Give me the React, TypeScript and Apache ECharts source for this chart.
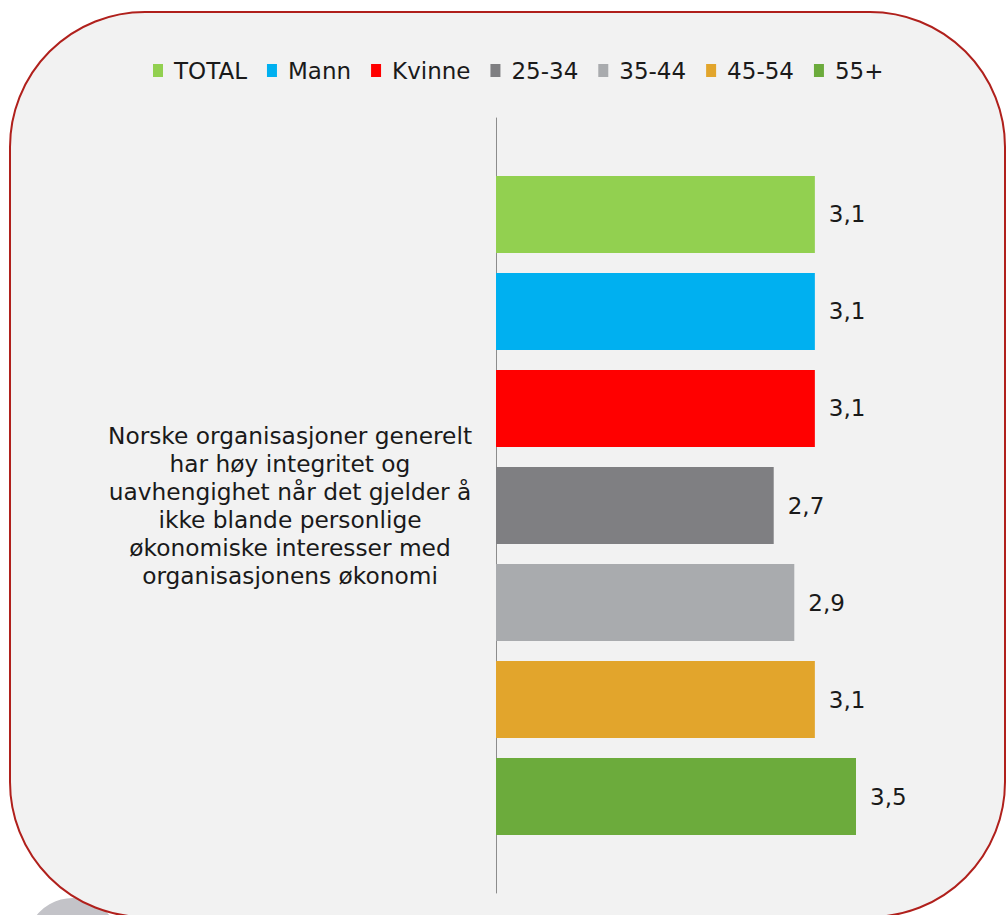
import React, { useEffect, useRef } from "react";
import * as echarts from "echarts";

const categories = [
  "Norske organisasjoner generelt\nhar høy integritet og\nuavhengighet når det gjelder å\nikke blande personlige\nøkonomiske interesser med\norganisasjonens økonomi",
];
const seriesNames = ["TOTAL", "Mann", "Kvinne", "25-34", "35-44", "45-54", "55+"];
const seriesValues = [3.1, 3.1, 3.1, 2.7, 2.9, 3.1, 3.5];
const seriesColors = ["#92d050", "#00b0f0", "#ff0000", "#7f7f82", "#a9abae", "#e2a52c", "#6cab3c"];

const FONT = "DejaVu Sans";

export default function App() {
  const ref = useRef<HTMLDivElement>(null);
  useEffect(() => {
    document.body.style.margin = "0";
    if (!ref.current) return;
    const chart = echarts.init(ref.current, undefined, { renderer: "svg" });
    chart.setOption({
      animation: false,
      backgroundColor: "#ffffff",
      graphic: [
        {
          type: "circle",
          z: -10,
          shape: { cx: 73, cy: 945, r: 47 },
          style: { fill: "#c3c3c8" },
        },
        {
          type: "rect",
          z: -5,
          shape: { x: 10, y: 12, width: 995, height: 905, r: 135 },
          style: { fill: "#f2f2f2", stroke: "#b0201c", lineWidth: 2 },
        },
      ],
      legend: {
        data: seriesNames,
        left: 148,
        top: 54,
        itemWidth: 10,
        itemHeight: 13,
        itemGap: 20,
        icon: "rect",
        textStyle: { fontFamily: FONT, fontSize: 23, color: "#1a1a1a", padding: [0, 0, 0, 6] },
      },
      grid: { left: 496, top: 118, width: 504, height: 775, containLabel: false },
      xAxis: { type: "value", min: 0, max: 4.9, show: false },
      yAxis: {
        type: "category",
        data: categories,
        inverse: true,
        axisLine: { show: true, lineStyle: { color: "#8c8c8c", width: 1 } },
        axisTick: { show: false },
        axisLabel: {
          fontFamily: FONT,
          fontSize: 23.3,
          lineHeight: 28,
          color: "#1a1a1a",
          align: "center",
          margin: 206,
        },
      },
      series: seriesNames.map((name, i) => ({
        name,
        type: "bar",
        data: [seriesValues[i]],
        barWidth: 77,
        barGap: "26%",
        itemStyle: { color: seriesColors[i] },
        label: {
          show: true,
          position: "right",
          distance: 14,
          fontFamily: FONT,
          fontSize: 23,
          color: "#1a1a1a",
          formatter: (p: any) => String(p.value).replace(".", ","),
        },
      })),
    });
    return () => chart.dispose();
  }, []);
  return <div ref={ref} style={{ width: 1006, height: 915 }} />;
}
